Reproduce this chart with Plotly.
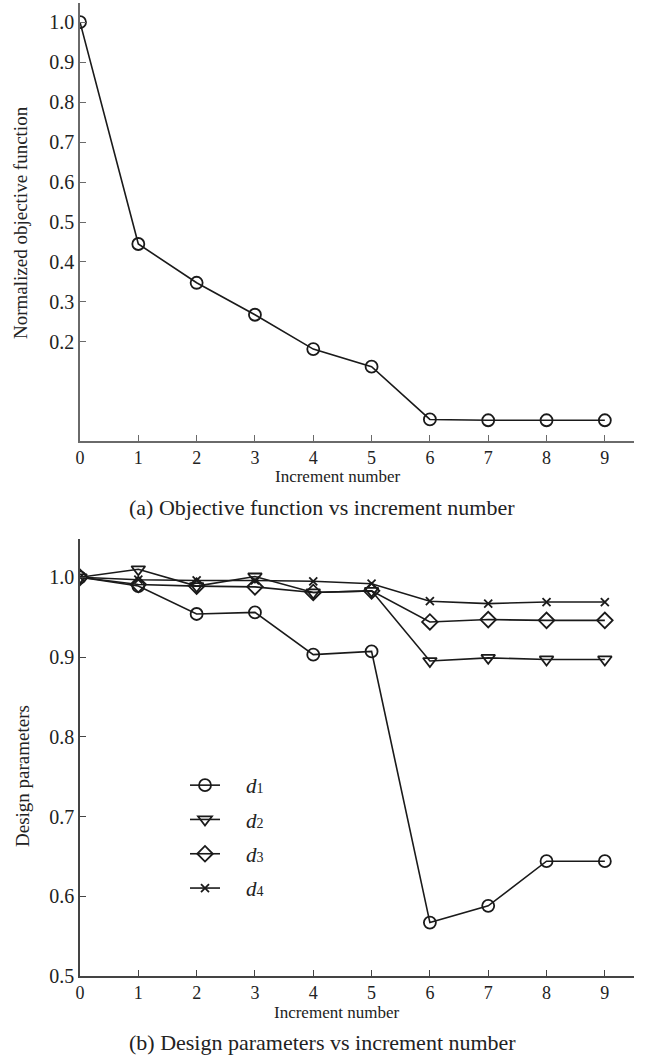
import plotly.graph_objects as go

increments = [0, 1, 2, 3, 4, 5, 6, 7, 8, 9]
objective = [1.0, 0.445, 0.348, 0.268, 0.182, 0.138, 0.006, 0.004, 0.004, 0.004]

d1 = [1.0, 0.989, 0.954, 0.956, 0.903, 0.907, 0.567, 0.588, 0.644, 0.644]
d2 = [1.0, 1.010, 0.989, 1.001, 0.981, 0.983, 0.895, 0.899, 0.897, 0.897]
d3 = [1.0, 0.991, 0.989, 0.988, 0.981, 0.983, 0.944, 0.947, 0.946, 0.946]
d4 = [1.0, 0.997, 0.996, 0.996, 0.995, 0.992, 0.970, 0.967, 0.969, 0.969]

top_yticks = [0.2, 0.3, 0.4, 0.5, 0.6, 0.7, 0.8, 0.9, 1.0]
bot_yticks = [0.5, 0.6, 0.7, 0.8, 0.9, 1.0]

FONT = "Liberation Serif"
INK = "#1a1a1a"
TXT = "#222222"

fig = go.Figure()

fig.add_trace(go.Scatter(
    x=increments, y=objective, mode="lines+markers", xaxis="x", yaxis="y",
    line=dict(color=INK, width=1.6),
    marker=dict(symbol="circle-open", size=12, color=INK, line=dict(width=1.8)),
    showlegend=False))

series = [
    (d1, "1", "circle-open", 12),
    (d2, "2", "triangle-down-open", 12),
    (d3, "3", "diamond-open", 12),
    (d4, "4", "x-thin-open", 8),
]
for vals, idx, sym, sz in series:
    fig.add_trace(go.Scatter(
        x=increments, y=vals, mode="lines+markers", xaxis="x2", yaxis="y2",
        name=f"&nbsp;&nbsp;&nbsp;&nbsp;<i>d</i><span style='font-size:14px'>{idx}</span>",
        legendgroup=f"g{idx}",
        line=dict(color=INK, width=1.6),
        marker=dict(symbol=sym, size=sz, color=INK, line=dict(width=1.8, color=INK))))

def axis_common(tick_size, color):
    return dict(
        showline=True, linecolor=color, linewidth=1.6, ticks="inside",
        ticklen=6, tickcolor=color, tickwidth=1.2, showgrid=False, zeroline=False,
        tickfont=dict(family=FONT, size=tick_size, color=TXT))

fig.update_layout(
    width=646, height=1057,
    paper_bgcolor="white", plot_bgcolor="white",
    margin=dict(l=80, r=12, t=3, b=81),
    font=dict(family=FONT, color=TXT),
    xaxis=dict(domain=[0, 1], anchor="y", range=[0, 9.5], tickvals=increments,
               **axis_common(18, "#6a6a6a")),
    yaxis=dict(domain=[0.5498, 1.0], anchor="x", range=[-0.048, 1.048],
               tickvals=top_yticks, tickformat=".1f", **axis_common(20, "#6a6a6a")),
    xaxis2=dict(domain=[0, 1], anchor="y2", range=[0, 9.5], tickvals=increments,
                **axis_common(18, "#444444")),
    yaxis2=dict(domain=[0.0, 0.4491], anchor="x2", range=[0.5, 1.048],
                tickvals=bot_yticks, tickformat=".1f", **axis_common(20, "#444444")),
    showlegend=True,
    legend=dict(x=(185 - 80) / 554, y=(976 - 765) / 973, xanchor="left", yanchor="top",
                font=dict(family=FONT, size=21, color=TXT),
                bgcolor="rgba(0,0,0,0)", traceorder="grouped", tracegroupgap=4),
)

def pap(p):
    return (976 - p) / 973

annos = [
    dict(text="Normalized objective function", x=(20 - 80) / 554, y=pap(223), textangle=-90, size=19),
    dict(text="Design parameters", x=(22 - 80) / 554, y=pap(776), textangle=-90, size=19),
    dict(text="Increment number", x=(337 - 80) / 554, y=pap(477), textangle=0, size=17),
    dict(text="Increment number", x=(336 - 80) / 554, y=pap(1012), textangle=0, size=17),
    dict(text="(a) Objective function vs increment number", x=(322 - 80) / 554, y=pap(508), textangle=0, size=22),
    dict(text="(b) Design parameters vs increment number", x=(322 - 80) / 554, y=pap(1042), textangle=0, size=22),
]
for a in annos:
    fig.add_annotation(text=a["text"], xref="paper", yref="paper", x=a["x"], y=a["y"],
                       xanchor="center", yanchor="middle", showarrow=False, textangle=a["textangle"],
                       font=dict(family=FONT, size=a["size"], color=TXT))

fig.write_html("out.html", config={"displayModeBar": False},
               post_script="document.body.style.margin='0';")
